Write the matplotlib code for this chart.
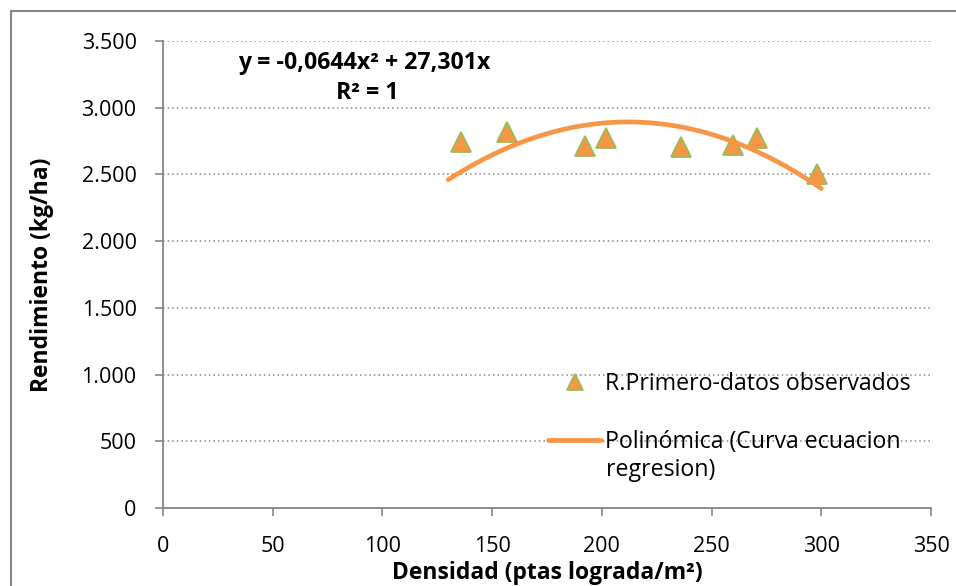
import matplotlib
matplotlib.use("Agg")
import matplotlib.pyplot as plt
from matplotlib.patches import Rectangle
import numpy as np

# datos observados
densidad = [135.7, 156.6, 192.3, 201.8, 236.0, 259.7, 270.6, 297.9]
rendimiento = [2740, 2815, 2711, 2772, 2706, 2720, 2775, 2505]

# curva de regresion: y = -0,0644x^2 + 27,301x
coef_a = -0.0644
coef_b = 27.301
curva_x_min = 130
curva_x_max = 300

x_ticks = [0, 50, 100, 150, 200, 250, 300, 350]
y_ticks = [0, 500, 1000, 1500, 2000, 2500, 3000, 3500]
y_tick_labels = ["0", "500", "1.000", "1.500", "2.000", "2.500", "3.000", "3.500"]

NARANJA = "#F79646"
VERDE = "#9BBB59"
GRIS = "#868686"

W, H = 956, 586

plt.rcParams['font.family'] = ['Open Sans', 'DejaVu Sans']

fig = plt.figure(figsize=(W / 100, H / 100), dpi=100)
ax = fig.add_axes([163 / W, 1 - 508 / H, 768 / W, 467 / H])

# marco exterior del grafico
fig.patches.append(Rectangle((11 / W, -0.05), 1.1, 1 - 11 / H + 0.05,
                             transform=fig.transFigure, fill=False,
                             edgecolor=GRIS, linewidth=1.5))

xc = np.linspace(curva_x_min, curva_x_max, 200)
yc = coef_a * xc ** 2 + coef_b * xc

ax.plot(densidad, rendimiento, linestyle='none', marker='^', markersize=14,
        markerfacecolor=NARANJA, markeredgecolor=VERDE, markeredgewidth=1.3,
        label='R.Primero-datos observados', zorder=3)
ax.plot(xc, yc, color=NARANJA, linewidth=3.4, solid_capstyle='round',
        label='Polinómica (Curva ecuacion', zorder=4)

ax.set_xlim(0, 350)
ax.set_ylim(0, 3500)
ax.set_xticks(x_ticks)
ax.set_yticks(y_ticks)
ax.set_yticklabels(y_tick_labels)
ax.tick_params(axis='both', labelsize=15.5, color=GRIS, length=6, width=1.2, direction='out')
ax.tick_params(axis='x', pad=14)
ax.tick_params(axis='y', pad=13)

for s in ['top', 'right']:
    ax.spines[s].set_visible(False)
for s in ['left', 'bottom']:
    ax.spines[s].set_color(GRIS)
    ax.spines[s].set_linewidth(1.3)

ax.yaxis.grid(True, linestyle=(0, (1, 2)), color=GRIS, linewidth=1.1)
ax.set_axisbelow(True)

ax.set_xlabel('Densidad (ptas lograda/m²)', fontsize=16.5, fontweight='bold', va='center')
ax.xaxis.set_label_coords(0.5, -(573 - 508) / 467)
ax.set_ylabel('Rendimiento (kg/ha)', fontsize=16.5, fontweight='bold', va='center')
ax.yaxis.set_label_coords((42 - 163) / 768, 0.5)

ax.text(364, H - 63, 'y = -0,0644x² + 27,301x', transform=None, fontsize=16.7,
        fontweight='bold', ha='center', va='center')
ax.text(367, H - 93, 'R² = 1', transform=None, fontsize=16.7,
        fontweight='bold', ha='center', va='center')

leg = ax.legend(loc='upper left', bbox_to_anchor=((548 - 163) / 768, (508 - 372) / 467),
                frameon=False, fontsize=16.7, handlelength=2.3, handletextpad=0.17,
                labelspacing=1.45, borderaxespad=0, borderpad=0, markerscale=0.85)
# segunda linea de la etiqueta de la curva
ax.text(606, H - 470, 'regresion)', transform=None, fontsize=16.7,
        ha='left', va='center')

fig.savefig('out.png', dpi=100)
